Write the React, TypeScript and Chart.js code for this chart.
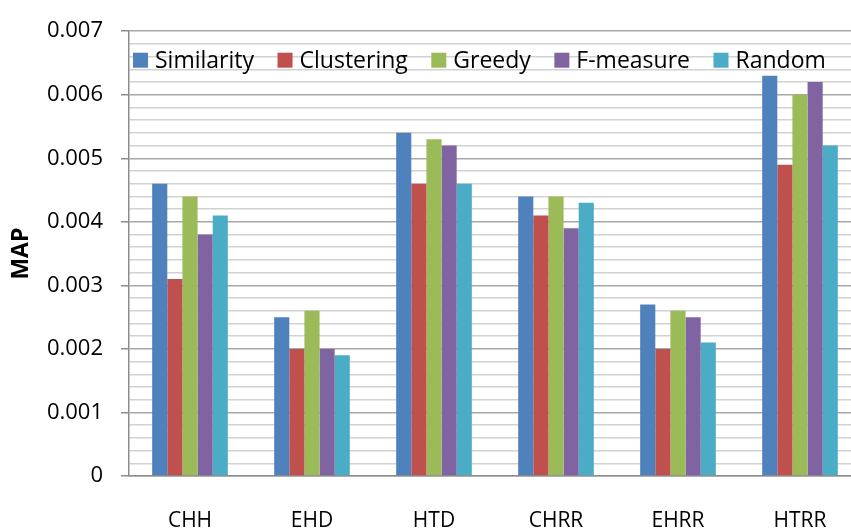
import React, { useEffect, useRef } from 'react';
import { Chart, registerables } from 'chart.js';

Chart.register(...registerables);

const categories = ['CHH', 'EHD', 'HTD', 'CHRR', 'EHRR', 'HTRR'];
const seriesNames = ['Similarity', 'Clustering', 'Greedy', 'F-measure', 'Random'];
const similarity = [0.0046, 0.0025, 0.0054, 0.0044, 0.0027, 0.0063];
const clustering = [0.0031, 0.0020, 0.0046, 0.0041, 0.0020, 0.0049];
const greedy = [0.0044, 0.0026, 0.0053, 0.0044, 0.0026, 0.0060];
const fmeasure = [0.0038, 0.0020, 0.0052, 0.0039, 0.0025, 0.0062];
const random = [0.0041, 0.0019, 0.0046, 0.0043, 0.0021, 0.0052];
const seriesValues = [similarity, clustering, greedy, fmeasure, random];
const seriesColors = ['#4F81BD', '#C0504D', '#9BBB59', '#8064A2', '#4BACC6'];
const yMin = 0;
const yMax = 0.007;
const yMinorStep = 0.0002;
const yTitle = 'MAP';

const FONT = '"Open Sans", sans-serif';

const isMajor = (v: number) => Math.abs(v * 1000 - Math.round(v * 1000)) < 1e-6;

const insideLegend = {
  id: 'insideLegend',
  afterDatasetsDraw(chart: any) {
    const { ctx, chartArea } = chart;
    ctx.save();
    ctx.font = `23px ${FONT}`;
    ctx.textBaseline = 'middle';
    ctx.textAlign = 'left';
    let x = chartArea.left + 4;
    const y = chartArea.top + 29;
    const box = 15;
    chart.data.datasets.forEach((ds: any) => {
      ctx.fillStyle = ds.backgroundColor;
      ctx.fillRect(x, y - box / 2, box, box);
      x += box + 7;
      ctx.fillStyle = '#000000';
      ctx.fillText(ds.label, x, y + 1);
      x += ctx.measureText(ds.label).width + 23.5;
    });
    ctx.restore();
  },
};

export default function App() {
  const ref = useRef<HTMLCanvasElement>(null);
  useEffect(() => {
    if (!ref.current) return;
    const chart = new Chart(ref.current, {
      type: 'bar',
      data: {
        labels: categories,
        datasets: seriesNames.map((name, i) => ({
          label: name,
          data: seriesValues[i],
          backgroundColor: seriesColors[i],
          borderWidth: 0,
          categoryPercentage: 0.62,
          barPercentage: 1,
        })),
      },
      options: {
        animation: false,
        responsive: false,
        devicePixelRatio: 1,
        layout: { padding: { top: 19, right: 19, left: 0, bottom: 0 } },
        plugins: {
          legend: { display: false },
          tooltip: { enabled: false },
        },
        scales: {
          x: {
            grid: { display: false, drawTicks: false },
            border: { display: true, color: '#8c8c8c', width: 1.5 },
            ticks: {
              color: '#000000',
              font: { family: FONT, size: 21 },
              padding: 32,
              maxRotation: 0,
            },
            afterFit: (s: any) => {
              s.height = 53;
            },
          },
          y: {
            min: yMin,
            max: yMax,
            grid: {
              color: (c: any) => (c.tick && isMajor(c.tick.value) ? '#a8a8a8' : '#d2d2d2'),
              tickColor: (c: any) => (c.tick && isMajor(c.tick.value) ? '#8c8c8c' : 'rgba(0,0,0,0)'),
              lineWidth: 1.5,
              drawTicks: true,
              tickLength: 8,
            },
            border: { display: true, color: '#8c8c8c', width: 1.5 },
            ticks: {
              stepSize: yMinorStep,
              autoSkip: false,
              color: '#000000',
              font: { family: FONT, size: 22 },
              padding: 18,
              callback: (v: any) => {
                const n = Number(v);
                if (!isMajor(n)) return '';
                return n === 0 ? '0' : n.toFixed(3);
              },
            },
            title: {
              display: true,
              text: yTitle,
              color: '#000000',
              font: { family: FONT, size: 23, weight: 'bold' },
              padding: { top: 8, bottom: 0 },
            },
            afterFit: (s: any) => {
              s.width = 129;
            },
          },
        },
      },
      plugins: [insideLegend],
    });
    return () => chart.destroy();
  }, []);
  return (
    <div style={{ position: 'fixed', left: 0, top: 0, width: 851, height: 529, overflow: 'hidden', background: '#ffffff' }}>
      <canvas ref={ref} width={880} height={529} style={{ width: 880, height: 529, display: 'block' }} />
    </div>
  );
}
